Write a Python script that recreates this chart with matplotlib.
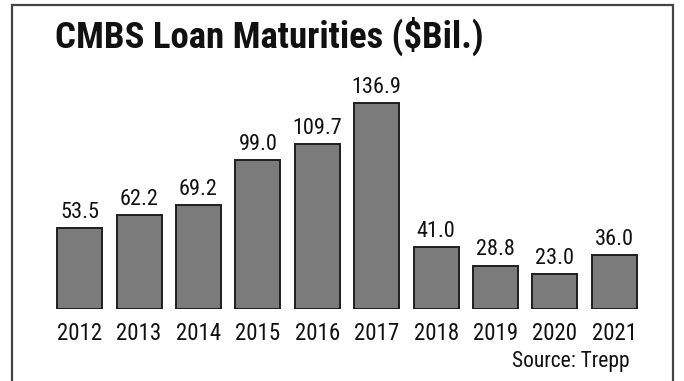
import matplotlib
matplotlib.use("Agg")
import matplotlib.pyplot as plt
from matplotlib.patches import Rectangle

# CMBS loan maturities by year, $ billions
years = ["2012", "2013", "2014", "2015", "2016", "2017", "2018", "2019", "2020", "2021"]
maturities = [53.5, 62.2, 69.2, 99.0, 109.7, 136.9, 41.0, 28.8, 23.0, 36.0]

FONT = ["Roboto Condensed", "Archivo Narrow", "DejaVu Sans"]
W, H = 684, 381

fig = plt.figure(figsize=(W / 100, H / 100), dpi=100)
fig.patch.set_facecolor("white")

# outer frame
fig.add_artist(Rectangle((12 / W, -0.05), (673 - 12) / W, (H - 5) / H + 0.05,
                         transform=fig.transFigure, fill=False,
                         edgecolor="#444444", linewidth=1.6))

ax = fig.add_axes([50 / W, (H - 309) / H, 594 / W, 225.75 / H])
x = range(len(years))
ax.bar(x, maturities, width=0.76, color="#7b7b7b", edgecolor="#1e1e1e", linewidth=1.4)
for xi, v in zip(x, maturities):
    ax.text(xi, v + 3.5, f"{v:.1f}", ha="center", va="bottom",
            fontsize=16, family=FONT, color="#111111")

ax.set_xlim(-0.5, len(years) - 0.5)
ax.set_ylim(0, 150)
ax.set_xticks(list(x))
ax.set_xticklabels(years, fontsize=16.5, family=FONT, color="#111111")
ax.tick_params(axis="x", length=0, pad=9)
ax.set_yticks([])
for s in ax.spines.values():
    s.set_visible(False)
ax.patch.set_alpha(0)

fig.text(55 / W, 1 - 36 / H, "CMBS Loan Maturities ($Bil.)", ha="left", va="center",
         fontsize=26.5, fontweight="heavy", family=FONT, color="#111111")
fig.text(630 / W, 1 - 362 / H, "Source: Trepp", ha="right", va="center",
         fontsize=15.5, family=FONT, color="#111111")

fig.savefig("out.png", dpi=100)
